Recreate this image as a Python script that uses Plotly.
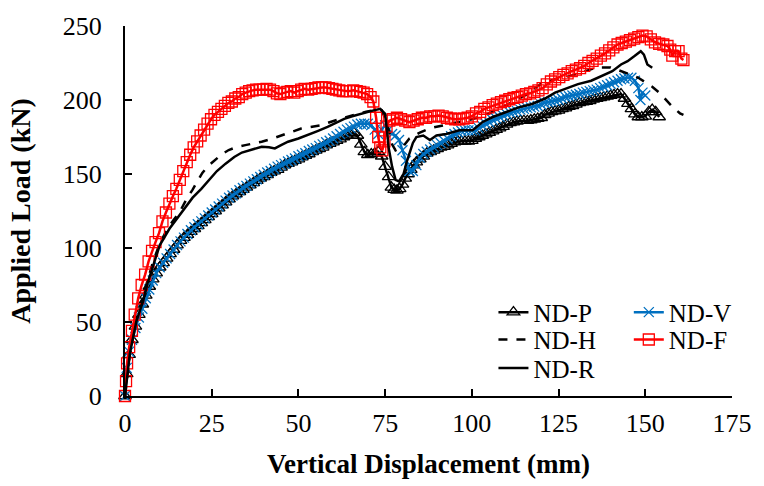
import plotly.graph_objects as go

# ---------------- data ----------------
p_x = [0,0.5,1.2,2,3,4,5,6,7,8,9,10,11,12,13,14,15,16,17,18,19,20,21,22,23,24,25,26,27,28,29,30,31,32,33,34,35,36,37,38,39,40,41,42,43,44,45,46,47,48,49,50,51,52,53,54,55,56,57,58,59,60,61,62,63,64,65,66,67,68,69,70,71,72,73,74,75,76,76.8,77.6,78.4,79.2,80,80.8,81.6,82.4,83.2,84,85,86,87,88,89,90,91,92,93,94,95,96,97,98,99,100,101,102,103,104,105,106,107,108,109,110,111,112,113,114,115,116,117,118,119,120,121,122,123,124,125,126,127,128,129,130,131,132,133,134,135,136,137,138,139,140,141,142,143,144,145,146,147,148,149,150,151,152,153,154]
p_y = [0,15,28,38,47,55,62,68,74,79,83,87,90,93,96,99,102,105,107,109,111,113,115,117,119,121,123,125,127,129,131,133,135,136.5,138,139.5,141,142.5,144,145.5,147,148,149.5,151,152,153,154.5,156,157,158,159,160,161.5,162.5,163.5,165,166,167,168,169.5,170.5,171.5,172.5,173.5,175,176,177,178,176,170,165,163,163.5,164,165,162,155,148,141,139.5,139,140,143,147,150,153,156,158,160,162,164,165,166,167,168,168.5,169.5,170.5,171.5,172,172,172,172,172.5,174,175,176,177,178,179,180,181,182,183.5,184.5,185,185.5,186,186,186,186.5,187,187.5,188,190,191,192,192.5,193,194,194.5,195.5,196,197,198,198.5,199,199.5,200.5,201,201.5,202,202.5,203,203.5,204,204,201,197.5,194,190.5,188.5,188.5,189,192,193.5,192,188.5]

v_x = [0,0.5,1.2,2,3,4,5,6,7,8,9,10,11,12,13,14,15,16,17,18,19,20,21,22,23,24,25,26,27,28,29,30,31,32,33,34,35,36,37,38,39,40,41,42,43,44,45,46,47,48,49,50,51,52,53,54,55,56,57,58,59,60,61,62,63,64,65,66,67,68,69,70,71,72,73,74,75,76,77,78,79,80,81,82,83,84,85,86,87,88,89,90,91,92,93,94,95,96,97,98,99,100,101,102,103,104,105,106,107,108,109,110,111,112,113,114,115,116,117,118,119,120,121,122,123,124,125,126,127,128,129,130,131,132,133,134,135,136,137,138,139,140,141,142,143,144,145,146,147,148,148.6,149.2,150]
v_y = [0,19,30,38,46,53,59,66,72,78,83,87,90,93,96,99,102,104.5,107,109.5,112,114,116,118,120,122,124,126,128,130,132,134,135.5,137,139,140.5,142,143.5,145,146.5,148,149.5,151,152,153.5,155,156,157,158.5,159.5,160.5,162,163,164,165.5,166.5,167.5,169,170,171.5,172.5,174,175.5,177,178.5,180,181,182,183.5,184,184,184,183,180,177,180,183,180,177,176,173,166,159,152,152,156,161,163.5,165,166.5,168,169.5,171,172.5,174,175.5,177,178,179,179.5,179.5,179.5,179.5,181,182.5,184,185,186.5,187.5,188.5,189.5,190.5,191.5,192,192.5,193.5,194,194.5,195,195.5,196,197,198,198.5,199,199.5,200,201,202,202.5,203,203.5,204,205,205.5,206,206.5,207,208,209,210,211,212,213,214,214.5,215,215,213,208,200,205,203]

h_x = [0,1.5,3.3,5,6.5,8,10,12,14,15.7,17.5,19.5,21,22.3,24,26.1,28,29.9,32,34.7,37,39.4,42,45.1,48,50.8,53.5,56.5,59,62.2,64.5,67,69.5,71.7,74,75.5,77,78,80,82,85,88,92,96,100,104,108,112,116,120,124,128,132,136,140,144,146,148,150,152,154,156,158,160,161]
h_y = [0,30,52,65,78,90,103,112,119,124,132,139.5,145,150.7,155.5,159.5,163.5,166.2,168,169.5,170.5,171.8,173.5,176.2,178.5,180.7,181.8,182.9,185,187.3,189,190.7,192,193,193,185,170,166,168,174,178,181,183,185,187,190,194,199,204,211,214,216,219,222,222,219,217,215,212,209,205,200,195,191,190]

f_x = [0,0.3,0.6,1.2,2.0,2.8,3.8,4.8,5.8,6.8,7.8,8.8,9.8,10.8,11.8,12.8,13.8,14.8,15.8,16.8,17.8,18.8,19.8,20.8,21.8,22.8,23.8,24.8,25.8,26.8,27.8,28.8,29.8,30.8,31.8,32.8,33.8,34.8,35.8,36.8,37.8,38.8,39.8,40.8,41.8,42.8,43.8,44.8,45.8,46.8,47.8,48.8,49.8,50.8,51.8,52.8,53.8,54.8,55.8,56.8,57.8,58.8,59.8,60.8,61.8,62.8,63.8,64.8,65.8,66.8,67.8,68.8,69.8,70.8,71.6,72.4,73.0,73.6,74.2,74.8,75.4,76.2,77.2,78.4,79.6,80.8,82.0,83.2,84.4,85.6,86.8,88.0,89.2,90.4,91.6,92.8,94.0,95.2,96.4,97.6,98.8,100.0,101.2,102.4,103.6,104.8,106.0,107.2,108.4,109.6,110.8,112.0,113.2,114.4,115.6,116.8,118.0,119.2,120.4,121.6,122.8,124.0,125.2,126.4,127.6,128.8,130.0,131.2,132.4,133.6,134.8,136.0,137.2,138.4,139.6,140.8,142.0,143.2,144.4,145.6,146.8,148.0,149.2,150.4,151.6,152.8,154.0,155.2,156.4,157.2,157.8,158.6,159.6,160.4,161.0]
f_y = [0,10,22,33,44,55,66,75,82,91,98,104,110,118,124,130,135,140,146,152,158,163,168,172,176,180,184,187,190,192,194,196,198,199,201,202,204,205,206,206.5,207,207,207,207.5,207,206,204.5,204,205,205.5,206,205,206,207,207.5,207,207.5,208,208.5,208.5,208.5,208,207.5,207,206.5,206,206,206,206.5,206,205.5,205,204,202,199,188,175,168,166,172,182,186,187,188,187,186,185,186,187,188,188,189,189,189.5,189,188,187.5,187,187,187.5,188,189,191,192,194,195,196.5,197.5,198.5,199.5,200.5,201.5,202,203,204,204.5,205.5,206.5,208,210.5,212.5,214,215.5,217,218,219.5,220.5,221.5,223,225,226.5,228,230,231.5,233.5,235.5,237.5,238.5,239.5,240.5,241.5,242.5,243.5,243,241,239,238,237.5,236.5,234,230,233,233,228,227]

r_x = [0,1.4,3.3,5.2,6.6,8.1,10,12.8,15.7,17.5,19.5,22,24.2,26.5,29,31.5,33.7,36.5,39.4,41.5,43.2,45,47,50,52.7,55.5,58.4,61,63.2,65.5,67.9,70,71.7,73.6,75,75.5,76,77,78,79,80.3,81.2,82.2,83,84,86,87.9,89.8,92.6,96.4,100.2,103,106,109.7,113.5,117.3,121.1,124,126.8,130.6,134.4,138.2,140.5,143,144.9,146.8,148.7,149.6,150.6,152]
r_y = [0,28.7,50.7,64,77,88.4,101.8,113,122,128,134,140,146,152,157,161.5,164.5,166.5,168.4,168,167.3,169.5,171.8,174,176.2,179,181.8,184.5,187.3,189,190.7,192,193,194,190.7,180,168,155,146,145,150,158,166,171,175,176,173,176,177,179.5,179.5,185,188.5,191.8,195,197.3,201,205,207.3,210.7,213,217.3,219.5,224,226.2,229.5,233,230.7,224,221.8]

series_names = ["ND-P", "ND-V", "ND-H", "ND-F", "ND-R"]
x_ticks = [0, 25, 50, 75, 100, 125, 150, 175]
y_ticks = [0, 50, 100, 150, 200, 250]

FONT = "Liberation Serif"
BLUE = "#0070C0"
RED = "#FF0000"

fig = go.Figure()
fig.add_trace(go.Scatter(x=p_x, y=p_y, name=series_names[0], mode="lines+markers",
                         line=dict(color="black", width=2.5),
                         marker=dict(symbol="triangle-up-open", size=11, color="black", line=dict(width=1.3)),
                         cliponaxis=False, legend="legend"))
fig.add_trace(go.Scatter(x=v_x, y=v_y, name=series_names[1], mode="lines+markers",
                         line=dict(color=BLUE, width=2.5),
                         marker=dict(symbol="x-thin-open", size=10, color=BLUE, line=dict(width=1.3, color=BLUE)),
                         cliponaxis=False, legend="legend2"))
fig.add_trace(go.Scatter(x=h_x, y=h_y, name=series_names[2], mode="lines",
                         line=dict(color="black", width=2.5, dash="dash"),
                         cliponaxis=False, legend="legend3"))
fig.add_trace(go.Scatter(x=f_x, y=f_y, name=series_names[3], mode="lines+markers",
                         line=dict(color=RED, width=2.5),
                         marker=dict(symbol="square-open", size=11, color=RED, line=dict(width=1.3)),
                         cliponaxis=False, legend="legend4"))
fig.add_trace(go.Scatter(x=r_x, y=r_y, name=series_names[4], mode="lines",
                         line=dict(color="black", width=2.5),
                         cliponaxis=False, legend="legend5"))

axis_common = dict(showgrid=False, zeroline=False, showline=True, linecolor="black", linewidth=2,
                   ticks="inside", ticklen=7, tickwidth=2, tickcolor="black",
                   tickfont=dict(family=FONT, size=26, color="black"))

leg_font = dict(family=FONT, size=25, color="black")
col1, col2 = 0.607, 0.830
row1, row2, row3 = 0.226, 0.152, 0.075


def leg(x, y):
    return dict(x=x, y=y, xanchor="left", yanchor="middle", bgcolor="rgba(0,0,0,0)",
                font=leg_font, itemwidth=30, tracegroupgap=0)


fig.update_layout(
    width=764, height=486,
    margin=dict(l=125, r=25, t=21, b=90),
    plot_bgcolor="white", paper_bgcolor="white",
    xaxis=dict(range=[0, 175], tickvals=x_ticks, ticklabelstandoff=3,
               title=dict(text="<b>Vertical Displacement (mm)</b>", font=dict(family=FONT, size=27, color="black"), standoff=17),
               **axis_common),
    yaxis=dict(range=[0, 250], tickvals=y_ticks, ticklabelstandoff=16,
               title=dict(text="<b>Applied Load (kN)</b>", font=dict(family=FONT, size=28, color="black"), standoff=24),
               **axis_common),
    legend=leg(col1, row1),
    legend2=leg(col2, row1),
    legend3=leg(col1, row2),
    legend4=leg(col2, row2),
    legend5=leg(col1, row3),
    showlegend=True,
)

fig.write_html("out.html")
